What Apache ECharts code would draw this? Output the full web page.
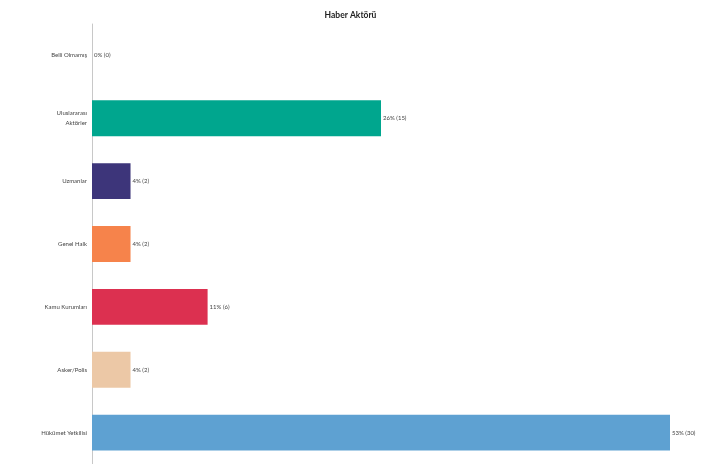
<!DOCTYPE html>
<html><head><meta charset="utf-8">
<script src="https://cdn.jsdelivr.net/npm/echarts@6/dist/echarts.min.js"></script>
<style>html,body{margin:0;padding:0;background:#fff}#c{width:701px;height:464px}</style>
</head><body><div id="c"></div>
<script>
const categories = ["Belli Olmamış", "Uluslararası\nAktörler", "Uzmanlar", "Genel Halk", "Kamu Kurumları", "Asker/Polis", "Hükümet Yetkilisi"];
const counts = [0, 15, 2, 2, 6, 2, 30];
const percents = [0, 26, 4, 4, 11, 4, 53];
const colors = ["#999999", "#00a68e", "#3d357a", "#f6834b", "#dc3050", "#ecc8a6", "#5ea1d2"];
const title = "Haber Aktörü";

const chart = echarts.init(document.getElementById('c'));
chart.setOption({
  animation: false,
  title: { text: title, left: 'center', top: 6, textStyle: { fontSize: 8.5, fontWeight: 'bold', color: '#222', fontFamily: 'Lato' } },
  grid: { left: 92, right: 31, top: 24, bottom: -2, containLabel: false },
  xAxis: { type: 'value', min: 0, max: 30, show: false },
  yAxis: {
    type: 'category', data: categories, inverse: true,
    axisLine: { show: true, lineStyle: { color: '#c8c8c8', width: 1 } },
    axisTick: { show: false },
    axisLabel: { fontSize: 6, color: '#444', margin: 5, lineHeight: 10, fontFamily: 'Lato' }
  },
  series: [{
    type: 'bar', barWidth: '57%',
    data: counts.map((v, i) => ({ value: v, itemStyle: { color: colors[i] } })),
    label: {
      show: true, position: 'right', distance: 2, fontSize: 6, color: '#444', fontFamily: 'Lato',
      formatter: p => percents[p.dataIndex] + '% (' + counts[p.dataIndex] + ')'
    }
  }]
});
</script></body></html>
